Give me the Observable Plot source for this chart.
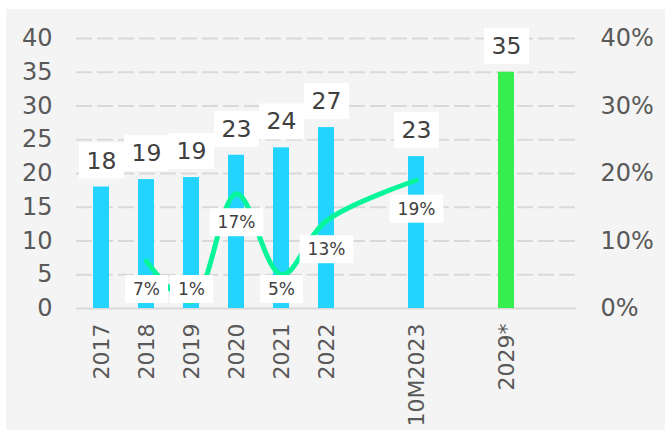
<!DOCTYPE html>
<html>
<head>
<meta charset="utf-8">
<script src="https://cdn.jsdelivr.net/npm/d3@7"></script>
<script src="https://cdn.jsdelivr.net/npm/@observablehq/plot@0.6"></script>
<style>
  html, body { margin: 0; padding: 0; background: #ffffff; }
  #wrap { position: relative; width: 665px; height: 430px; overflow: hidden; }
  #panel { position: absolute; left: 6px; top: 9px; right: 0; bottom: 0; background: #f4f4f4; }
  #chart { position: absolute; left: 0; top: 0; }
  #chart svg { background: transparent; font-family: "DejaVu Sans", Verdana, sans-serif; }
</style>
</head>
<body>
<div id="wrap"><div id="panel"></div><div id="chart"></div></div>
<script>
// ---- data ----
const categories = ["2017", "2018", "2019", "2020", "2021", "2022", "10M2023", "2029*"];
const volumes = [18, 19.1, 19.4, 22.7, 23.8, 26.8, 22.5, 35];
const volumeLabels = ["18", "19", "19", "23", "24", "27", "23", "35"];
const growthCategories = ["2018", "2019", "2020", "2021", "2022", "10M2023"];
const growth = [7, 1, 17, 5, 13, 19]; // percent
const growthLabels = ["7%", "1%", "17%", "5%", "13%", "19%"];
const leftTicks = [0, 5, 10, 15, 20, 25, 30, 35, 40];
const rightTicks = [0, 10, 20, 30, 40];
const rightTickLabels = ["0%", "10%", "20%", "30%", "40%"];
const forecastCategory = "2029*";

// ---- derived tables ----
const bars = categories.map((c, i) => ({cat: c, value: volumes[i], label: volumeLabels[i], forecast: c === forecastCategory}));
const line = growthCategories.map((c, i) => ({cat: c, value: growth[i], label: growthLabels[i]}));
// slot layout: spacer slots between groups
const domain = ["2017", "2018", "2019", "2020", "2021", "2022", "_a", "10M2023", "_b", "2029*", "_c"];

const chart = Plot.plot({
  width: 665,
  height: 430,
  marginLeft: 76,
  marginRight: 89,
  marginTop: 38,
  marginBottom: 122,
  style: {background: "transparent", fontFamily: "DejaVu Sans, Verdana, sans-serif"},
  x: {domain, paddingInner: 0.655, paddingOuter: 0.3275, axis: null},
  y: {domain: [0, 40], axis: null},
  marks: [
    Plot.gridY(leftTicks.filter(d => d > 0), {stroke: "#d9d9d9", strokeOpacity: 1, strokeWidth: 2, strokeDasharray: "16,5"}),
    Plot.ruleY([0], {stroke: "#d9d9d9", strokeWidth: 2}),
    Plot.barY(bars, {x: "cat", y: "value", fill: d => d.forecast ? "#36ef4f" : "#22d4ff"}),
    Plot.line(line, {x: "cat", y: "value", stroke: "#06f599", strokeWidth: 5, curve: "catmull-rom"}),
    Plot.text(line, {x: "cat", y: d => Math.max(d.value - 4.3, 2.8), text: "label", fontSize: 17, fill: "#404040", className: "pctlab"}),
    Plot.text(bars, {x: "cat", y: "value", dy: -26, text: "label", fontSize: 23.5, fill: "#404040", className: "barlab"}),
    Plot.axisY(leftTicks, {anchor: "left", label: null, tickSize: 0, tickPadding: 24, fontSize: 24, fill: "#595959"}),
    Plot.axisY(rightTicks, {anchor: "right", label: null, tickSize: 0, tickPadding: 24, fontSize: 24, fill: "#595959", tickFormat: (d) => rightTickLabels[rightTicks.indexOf(d)]}),
    Plot.axisX(categories, {anchor: "bottom", label: null, tickSize: 0, tickPadding: 15, tickRotate: -90, fontSize: 22, fill: "#595959"})
  ]
});

document.getElementById("chart").appendChild(chart);

// white label boxes behind the data labels
function boxes(cls, padX, padY) {
  chart.querySelectorAll("." + cls + " text").forEach(t => {
    const b = t.getBBox();
    const r = document.createElementNS("http://www.w3.org/2000/svg", "rect");
    r.setAttribute("x", b.x - padX);
    r.setAttribute("y", b.y - padY);
    r.setAttribute("width", b.width + 2 * padX);
    r.setAttribute("height", b.height + 2 * padY);
    r.setAttribute("fill", "#ffffff");
    if (t.getAttribute("transform")) r.setAttribute("transform", t.getAttribute("transform"));
    t.parentNode.insertBefore(r, t);
  });
}
boxes("pctlab", 8, 4);
boxes("barlab", 7.5, 4);
</script>
</body>
</html>
